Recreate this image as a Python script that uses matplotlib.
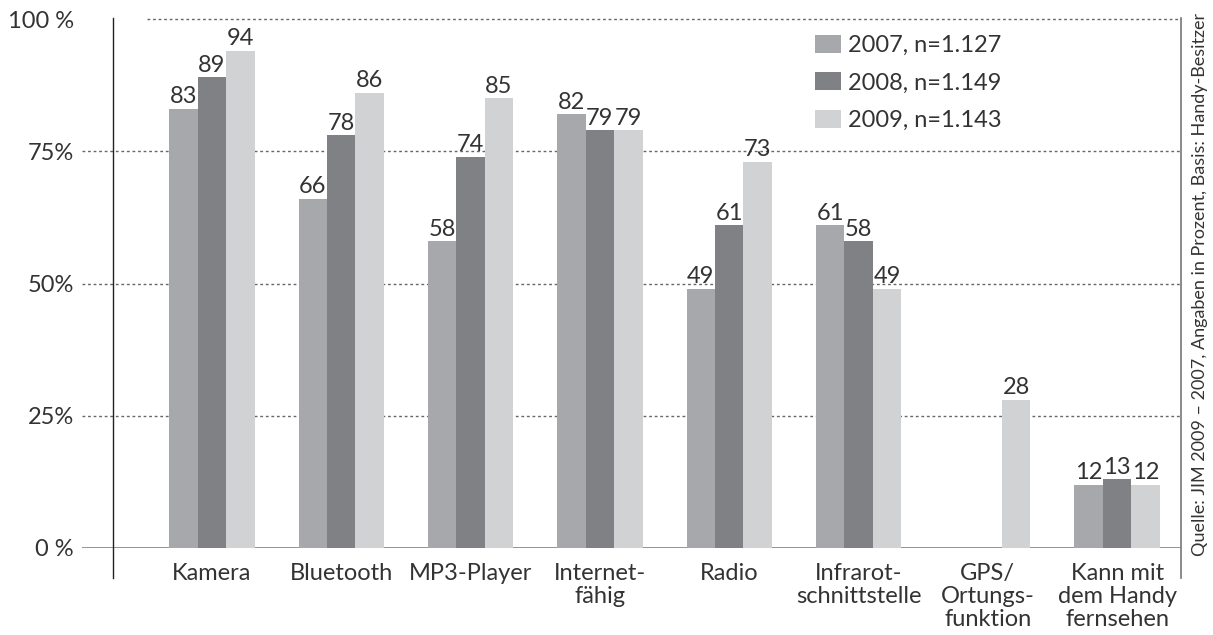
import matplotlib.pyplot as plt
import numpy as np

# Daten: Geräteausstattung Handy (Angaben in Prozent)
kategorien = ["Kamera", "Bluetooth", "MP3-Player", "Internet-\nfähig", "Radio",
              "Infrarot-\nschnittstelle", "GPS/\nOrtungs-\nfunktion",
              "Kann mit\ndem Handy\nfernsehen"]
werte_2007 = [83, 66, 58, 82, 49, 61, np.nan, 12]
werte_2008 = [89, 78, 74, 79, 61, 58, np.nan, 13]
werte_2009 = [94, 86, 85, 79, 73, 49, 28, 12]
serien = ["2007, n=1.127", "2008, n=1.149", "2009, n=1.143"]
y_ticks = [0, 25, 50, 75, 100]
y_labels = ["0 %", "25%", "50%", "75%", "100 %"]
quelle = "Quelle: JIM 2009 – 2007, Angaben in Prozent, Basis: Handy-Besitzer"

farben = ["#a7a8ab", "#808184", "#d1d2d4"]
textfarbe = "#333333"

plt.rcParams['font.family'] = ['Lato', 'DejaVu Sans']

W, H = 1213, 635
fig = plt.figure(figsize=(W / 100, H / 100), dpi=100)
# Achse in Pixeln: links 82, rechts 1181, unten (0 %) 548, oben (100 %) 19
ax = fig.add_axes([82 / W, 1 - 548 / H, (1181 - 82) / W, (548 - 19) / H])

x = np.arange(len(kategorien))
breite = 0.22
for i, (werte, name) in enumerate(zip([werte_2007, werte_2008, werte_2009], serien)):
    pos = x + (i - 1) * breite
    ax.bar(pos, werte, width=breite, color=farben[i], label=name, zorder=3)
    for p, v in zip(pos, werte):
        if not np.isnan(v):
            ax.text(p, v + 0.3, f"{v:.0f}", ha='center', va='bottom', fontsize=17,
                    color=textfarbe, zorder=4)

ax.set_xlim(-1.005, 7.494)
ax.set_ylim(0, 100)

# Gitternetzlinien
for t in [25, 50, 75]:
    ax.axhline(t, color='#666666', lw=1, ls=(0, (2, 2)), zorder=1)
ax.plot([-0.503, 7.494], [100, 100], color='#666666', lw=1, ls=(0, (2, 2)), zorder=1,
        clip_on=False)
ax.axhline(0, color='#8a8a8a', lw=2, zorder=2)

# senkrechte Linien links und rechts
ax.plot([-0.766, -0.766], [-5.7, 100.2], color='#222222', lw=1, clip_on=False)
ax.plot([7.494, 7.494], [-5.7, 100.2], color='#777777', lw=1.2, clip_on=False)

for s in ax.spines.values():
    s.set_visible(False)

ax.set_yticks(y_ticks)
ax.set_yticklabels(y_labels, fontsize=17, color=textfarbe)
ax.set_xticks(x)
ax.set_xticklabels(kategorien, fontsize=17, color=textfarbe, linespacing=1.12)
ax.tick_params(axis='both', length=0)
ax.tick_params(axis='y', pad=6)
ax.tick_params(axis='x', pad=11)

ax.legend(loc='upper left', bbox_to_anchor=(0.648, 1.01), frameon=False,
          fontsize=17, handlelength=1.1, handleheight=0.8, handletextpad=0.3,
          labelspacing=0.68, labelcolor=textfarbe)

fig.text(1200 / W, 1 - 284 / H, quelle, rotation=90, ha='center', va='center',
         fontsize=13, color=textfarbe)

fig.savefig("out.png", dpi=100)
